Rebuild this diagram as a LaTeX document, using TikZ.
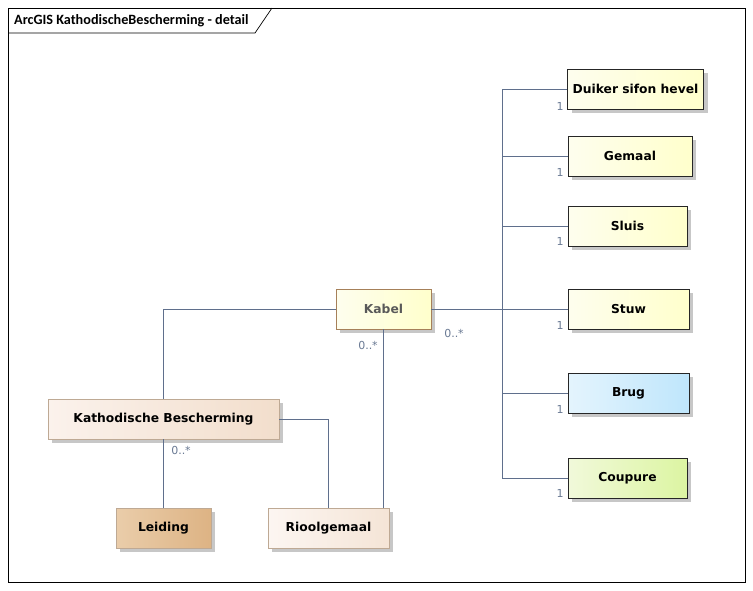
\documentclass[tikz,border=0pt]{standalone}
\usepackage{fontspec}
\setmainfont{DejaVu Sans}
\newfontfamily\titlefont{Carlito}
\usetikzlibrary{shadows}
\definecolor{lineclr}{HTML}{5F6F8C}
\definecolor{lblclr}{HTML}{6A7A94}
\definecolor{yl}{HTML}{FEFEEE}
\definecolor{yr}{HTML}{FFFFCC}
\definecolor{bl}{HTML}{E4F4FD}
\definecolor{br}{HTML}{BFE6FC}
\definecolor{gl}{HTML}{F1F9DA}
\definecolor{gr}{HTML}{DCF5A2}
\definecolor{pl}{HTML}{FBF2EC}
\definecolor{pr}{HTML}{F2DECC}
\definecolor{ll}{HTML}{EACDAA}
\definecolor{lr}{HTML}{DDB384}
\tikzset{
  box/.style={draw, line width=0.9pt, anchor=center, minimum height=40pt, inner sep=2pt,
    font=\fontsize{12.3}{14}\selectfont\bfseries,
    drop shadow={shadow xshift=4pt, shadow yshift=-4pt, fill=black!22, opacity=1}},
  ybox/.style={box, draw=black!85, left color=yl, right color=yr},
  bbox/.style={box, draw=black!85, left color=bl, right color=br},
  gbox/.style={box, draw=black!85, left color=gl, right color=gr},
  kbox/.style={box, draw=brown!60!gray, left color=yl, right color=yr, text=black!65},
  pbox/.style={box, draw=black!35!brown!50, left color=pl, right color=pr},
  lbox/.style={box, draw=black!35!brown!50, left color=ll, right color=lr},
  conn/.style={draw=lineclr, line width=0.8pt},
  lbl/.style={text=lblclr, font=\fontsize{11}{12}\selectfont, inner sep=0pt}
}
\begin{document}
\begin{tikzpicture}[x=1pt,y=-1pt]
\useasboundingbox (0,0) rectangle (753,590);
\fill[white] (0,0) rectangle (753,590);
% frame
\draw[black, line width=0.7pt] (8,8) rectangle (745,582);
\draw[black, line width=0.7pt] (8,33) -- (255,33) -- (272,8);
\node[anchor=west, inner sep=0pt, font=\titlefont\fontsize{14.2}{16}\selectfont\bfseries] (title) at (14,20.5) {ArcGIS KathodischeBescherming - detail};

% right column
\node[ybox, minimum width=136pt] (duiker) at (635.5,89) {Duiker sifon hevel};
\node[ybox, minimum width=124pt] (gemaal) at (630,156) {Gemaal};
\node[ybox, minimum width=119pt] (sluis) at (627.5,226) {Sluis};
\node[ybox, minimum width=121pt] (stuw) at (628.5,309) {Stuw};
\node[bbox, minimum width=121pt] (brug) at (628.5,393) {Brug};
\node[gbox, minimum width=119pt] (coupure) at (627.5,478) {Coupure};

% middle / left
\node[kbox, minimum width=95pt] (kabel) at (383.5,309) {Kabel};
\node[pbox, minimum width=231pt] (kb) at (163.5,419) {Kathodische Bescherming};
\node[lbox, minimum width=95pt] (leiding) at (163.5,528) {Leiding};
\node[pbox, minimum width=121pt, left color=pl!70!white, right color=pr!80!white] (riool) at (328.5,528) {Rioolgemaal};

\coordinate (trunkT) at (502,89);
\coordinate (trunkB) at (502,478);

\draw[conn] (duiker.west) -- (trunkT) -- (trunkB) -- (coupure.west);
\draw[conn] (gemaal.west) -- (gemaal.west -| trunkT);
\draw[conn] (sluis.west) -- (sluis.west -| trunkT);
\draw[conn] (brug.west) -- (brug.west -| trunkT);
\draw[conn] (kabel.east) -- (stuw.west);
\draw[conn] (kabel.west) -| (kb.north);
\draw[conn] (kabel.south) -- (kabel.south |- riool.north);
\draw[conn] (kb.east) -| (riool.north);
\draw[conn] (kb.south) -- (leiding.north);

% labels
\node[lbl] (l1) at (560,106) {1};
\node[lbl] (l2) at (560,172) {1};
\node[lbl] (l3) at (560,241) {1};
\node[lbl] (l4) at (560,325) {1};
\node[lbl] (l5) at (560,409) {1};
\node[lbl] (l6) at (560,493) {1};
\node[lbl] (m1) at (454,333) {0..*};
\node[lbl] (m2) at (368,345) {0..*};
\node[lbl] (m3) at (181,450) {0..*};
\end{tikzpicture}
\end{document}
